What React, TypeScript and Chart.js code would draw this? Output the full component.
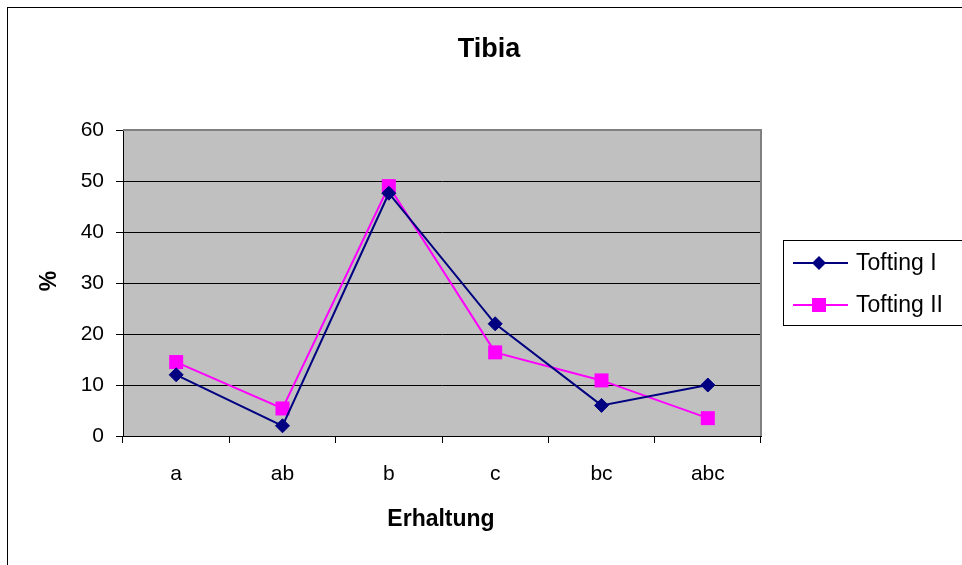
import React, { useEffect, useRef } from "react";
import { Chart, registerables } from "chart.js";

Chart.register(...registerables);

const categories = ["a", "ab", "b", "c", "bc", "abc"];
const toftingI = [12, 2, 47.6, 22, 6, 10];
const toftingII = [14.5, 5.4, 49, 16.4, 10.9, 3.5];
const yTicks = [0, 10, 20, 30, 40, 50, 60];

const FONT = "'Liberation Sans', Arial, sans-serif";

const decorPlugin = {
  id: "decor",
  beforeDraw(chart: any) {
    const { ctx, chartArea } = chart;
    ctx.save();
    ctx.fillStyle = "#ffffff";
    ctx.fillRect(0, 0, chart.width, chart.height);
    ctx.fillStyle = "#C0C0C0";
    ctx.fillRect(chartArea.left, chartArea.top, chartArea.right - chartArea.left, chartArea.bottom - chartArea.top);
    ctx.restore();
  },
  beforeDatasetsDraw(chart: any) {
    const { ctx, chartArea } = chart;
    ctx.save();
    ctx.strokeStyle = "#808080";
    ctx.lineWidth = 2;
    ctx.beginPath();
    ctx.moveTo(chartArea.left, chartArea.top);
    ctx.lineTo(chartArea.right, chartArea.top);
    ctx.lineTo(chartArea.right, chartArea.bottom);
    ctx.stroke();
    ctx.restore();
  },
  afterDraw(chart: any) {
    const { ctx } = chart;
    ctx.save();
    // outer frame
    ctx.strokeStyle = "#000000";
    ctx.lineWidth = 1;
    ctx.strokeRect(7.5, 7.5, 1200, 1200);
    // title
    ctx.fillStyle = "#000";
    ctx.textAlign = "center";
    ctx.textBaseline = "middle";
    ctx.font = `bold 27px ${FONT}`;
    ctx.fillText("Tibia", 489, 50);
    // x title
    ctx.font = `bold 23px ${FONT}`;
    ctx.fillText("Erhaltung", 441, 520);
    // y title
    ctx.save();
    ctx.translate(50, 281);
    ctx.rotate(-Math.PI / 2);
    ctx.fillText("%", 0, 0);
    ctx.restore();
    // legend
    ctx.strokeStyle = "#000";
    ctx.lineWidth = 1;
    ctx.strokeRect(783.5, 240.5, 400, 85);
    const ds = chart.data.datasets;
    const rows = [263, 305];
    ds.forEach((d: any, i: number) => {
      const y = rows[i];
      ctx.strokeStyle = d.borderColor;
      ctx.lineWidth = 2;
      ctx.beginPath();
      ctx.moveTo(793, y);
      ctx.lineTo(848, y);
      ctx.stroke();
      ctx.fillStyle = d.pointBackgroundColor;
      ctx.beginPath();
      if (d.pointStyle === "rectRot") {
        const r = 7;
        ctx.moveTo(819, y - r);
        ctx.lineTo(819 + r, y);
        ctx.lineTo(819, y + r);
        ctx.lineTo(819 - r, y);
        ctx.closePath();
      } else {
        ctx.rect(819 - 7, y - 7, 14, 14);
      }
      ctx.fill();
      ctx.fillStyle = "#000";
      ctx.textAlign = "left";
      ctx.font = `23px ${FONT}`;
      ctx.fillText(d.label, 856, y + 1);
    });
    ctx.restore();
  },
};

export default function App() {
  const ref = useRef<HTMLCanvasElement>(null);
  useEffect(() => {
    if (!ref.current) return;
    const chart = new Chart(ref.current, {
      type: "line",
      data: {
        labels: categories,
        datasets: [
          {
            label: "Tofting I",
            data: toftingI,
            borderColor: "#000080",
            backgroundColor: "#000080",
            pointBackgroundColor: "#000080",
            pointBorderColor: "#000080",
            pointStyle: "rectRot",
            pointRadius: 7,
            pointBorderWidth: 1,
            borderWidth: 2,
            tension: 0,
          },
          {
            label: "Tofting II",
            data: toftingII,
            borderColor: "#FF00FF",
            backgroundColor: "#FF00FF",
            pointBackgroundColor: "#FF00FF",
            pointBorderColor: "#FF00FF",
            pointStyle: "rect",
            pointRadius: 9.9,
            pointBorderWidth: 0,
            borderWidth: 2,
            tension: 0,
          },
        ],
      },
      options: {
        animation: false,
        responsive: false,
        maintainAspectRatio: false,
        layout: { padding: { left: 0, top: 130, right: 201, bottom: 79 } },
        plugins: {
          legend: { display: false },
          title: { display: false },
          tooltip: { enabled: false },
        },
        scales: {
          x: {
            type: "category",
            offset: true,
            grid: { display: true, drawOnChartArea: false, offset: true, color: "#000", tickLength: 7 },
            border: { color: "#000", width: 1 },
            ticks: { color: "#000", font: { family: FONT, size: 21 }, padding: 19, maxRotation: 0 },
            afterFit(scale: any) {
              scale.height = 50;
            },
          },
          y: {
            min: 0,
            max: 60,
            afterBuildTicks(scale: any) {
              scale.ticks = yTicks.map((v) => ({ value: v }));
            },
            grid: { color: "#000", tickLength: 7, lineWidth: 1 },
            border: { color: "#000", width: 1 },
            ticks: { color: "#000", font: { family: FONT, size: 21 }, padding: 12 },
            afterFit(scale: any) {
              scale.width = 123;
            },
          },
        },
      },
      plugins: [decorPlugin],
    } as any);
    return () => chart.destroy();
  }, []);
  return (
    <div style={{ position: "fixed", left: 0, top: 0, width: 962, height: 565 }}>
      <canvas ref={ref} width={962} height={565} style={{ display: "block" }} />
    </div>
  );
}
